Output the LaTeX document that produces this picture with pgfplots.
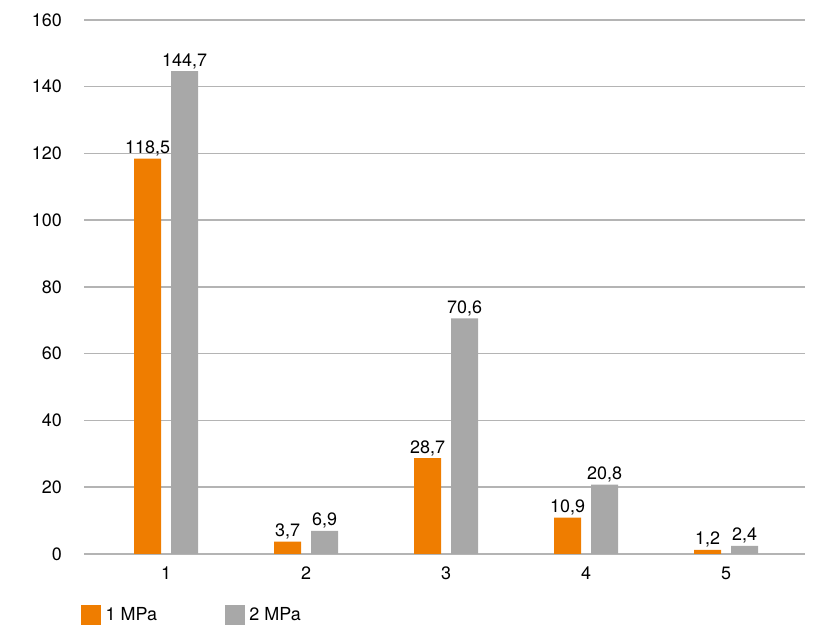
\documentclass[border=0pt]{standalone}
\usepackage{pgfplots}
\pgfplotsset{compat=1.18}
\usepackage{fontspec}
\setmainfont{TeX Gyre Heros}
\definecolor{barorange}{HTML}{EF7D00}
\definecolor{bargray}{HTML}{A8A8A8}
\definecolor{gridgray}{HTML}{B4B4B4}

\begin{document}
\begin{tikzpicture}
\useasboundingbox (0,0) rectangle (838bp,641bp);
\begin{axis}[
	at={(84bp,87bp)}, anchor=south west,
	scale only axis,
	width=721bp, height=534bp,
	ybar, bar width=27bp,
	xmin=0.414, xmax=5.564,
	ymin=0, ymax=160,
	xtick={1,2,3,4,5},
	ytick={0,20,...,160},
	axis line style={draw=none},
	major tick length=0pt,
	ymajorgrids,
	grid style={gridgray, line width=1.5bp},
	tick label style={font=\fontsize{18}{20}\selectfont},
	/pgf/number format/assume math mode=true,
	yticklabel style={inner sep=0pt, anchor=east, xshift=-22bp},
	xticklabel style={inner sep=0pt, anchor=north, yshift=-13bp},
	nodes near coords,
	nodes near coords style={font=\fontsize{18}{20}\selectfont, inner sep=0pt, anchor=base, yshift=5bp,
		/pgf/number format/.cd, fixed, fixed zerofill, precision=1, use comma, assume math mode=true},
	legend columns=2,
	legend style={at={(-0.00416,-0.1142)}, anchor=west, draw=none, fill=none, inner sep=0pt,
		font=\fontsize{18}{20}\selectfont,
		/tikz/every even column/.append style={column sep=66bp}},
	legend image code/.code={\fill[#1] (0bp,-10bp) rectangle (20bp,10bp); \path (22.5bp,0bp);},
]
\addplot[fill=barorange, draw=none, bar shift=-18.5bp] coordinates {
	(1,118.5) (2,3.7) (3,28.7) (4,10.9) (5,1.2)
};
\addplot[fill=bargray, draw=none, bar shift=18.5bp] coordinates {
	(1,144.7) (2,6.9) (3,70.6) (4,20.8) (5,2.4)
};
\legend{1 MPa, 2 MPa}
\end{axis}
\end{tikzpicture}
\end{document}
